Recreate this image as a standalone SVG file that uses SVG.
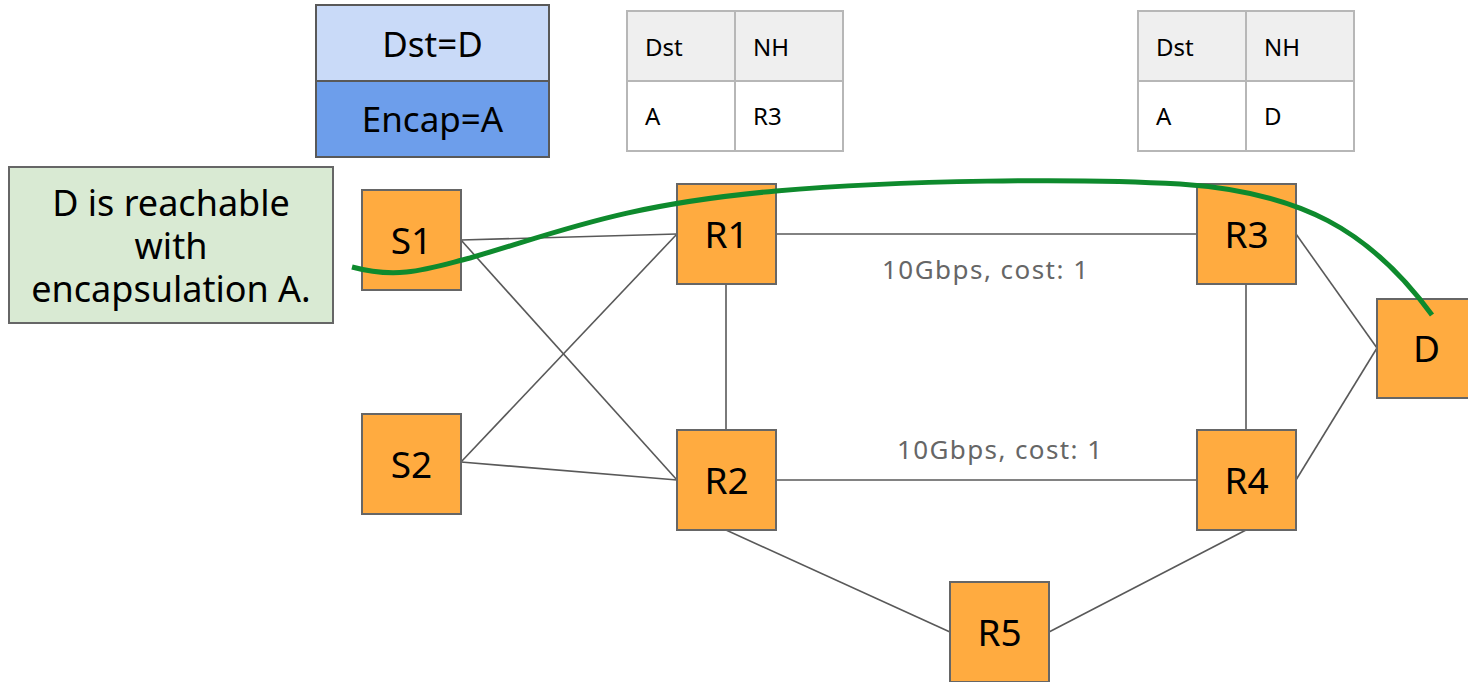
<svg xmlns="http://www.w3.org/2000/svg" width="1468" height="682" viewBox="0 0 1468 682">
  <style>
    .node rect { fill: #ffab40; stroke: #666666; stroke-width: 2; }
    .node text { font-family: "Noto Sans", "Open Sans", sans-serif; font-size: 37px; fill: #000; text-anchor: middle; }
    .link { stroke: #595959; stroke-width: 1.6; fill: none; }
    .lbl { font-family: "Noto Sans", "Open Sans", sans-serif; font-size: 26px; fill: #666666; }
    .tbl rect { stroke: #b7b7b7; stroke-width: 2; }
    .tbl line { stroke: #b7b7b7; stroke-width: 2; }
    .tbl text { font-family: "Noto Sans", "Open Sans", sans-serif; font-size: 24px; fill: #000; }
    .big { font-family: "Noto Sans", "Open Sans", sans-serif; font-size: 35px; fill: #000; text-anchor: middle; }
    .note { font-size: 36px; }
  </style>
  <rect width="1468" height="682" fill="#ffffff"/>

  <!-- packet header -->
  <g id="packet">
    <rect x="316" y="5" width="233" height="76" fill="#c9daf8" stroke="#595959" stroke-width="2"/>
    <rect x="316" y="81" width="233" height="76" fill="#6d9eeb" stroke="#595959" stroke-width="2"/>
    <text class="big" x="432.5" y="57">Dst=D</text>
    <text class="big" x="432.5" y="132">Encap=A</text>
  </g>

  <!-- routing tables -->
  <g id="table-r1" class="tbl">
    <rect x="627" y="11" width="216" height="70" fill="#efefef"/>
    <rect x="627" y="81" width="216" height="70" fill="#ffffff"/>
    <line x1="735" y1="11" x2="735" y2="151"/>
    <text x="645" y="56">Dst</text>
    <text x="753" y="56">NH</text>
    <text x="645" y="125">A</text>
    <text x="753" y="125">R3</text>
  </g>
  <g id="table-r3" class="tbl">
    <rect x="1138" y="11" width="216" height="70" fill="#efefef"/>
    <rect x="1138" y="81" width="216" height="70" fill="#ffffff"/>
    <line x1="1246" y1="11" x2="1246" y2="151"/>
    <text x="1156" y="56">Dst</text>
    <text x="1264" y="56">NH</text>
    <text x="1156" y="125">A</text>
    <text x="1264" y="125">D</text>
  </g>

  <!-- note -->
  <g id="note">
    <rect x="9" y="167" width="324" height="156" fill="#d9ead3" stroke="#666666" stroke-width="2"/>
    <text class="big note" x="171" y="216">D is reachable</text>
    <text class="big note" x="171" y="259">with</text>
    <text class="big note" x="171" y="302">encapsulation A.</text>
  </g>

  <!-- links -->
  <g id="links">
    <line class="link" x1="461" y1="240" x2="677" y2="234"/>
    <line class="link" x1="461" y1="240" x2="677" y2="480"/>
    <line class="link" x1="461" y1="462" x2="677" y2="234"/>
    <line class="link" x1="461" y1="462" x2="677" y2="480"/>
    <line class="link" x1="776" y1="234" x2="1197" y2="234"/>
    <line class="link" x1="726" y1="284" x2="726" y2="430"/>
    <line class="link" x1="1246" y1="284" x2="1246" y2="430"/>
    <line class="link" x1="776" y1="480" x2="1197" y2="480"/>
    <line class="link" x1="1296" y1="234" x2="1377" y2="348"/>
    <line class="link" x1="1296" y1="480" x2="1377" y2="348"/>
    <line class="link" x1="726" y1="530" x2="950" y2="632"/>
    <line class="link" x1="1246" y1="530" x2="1049" y2="632"/>
    <text class="lbl" x="882" y="279" textLength="206" lengthAdjust="spacing">10Gbps, cost: 1</text>
    <text class="lbl" x="897" y="459" textLength="205" lengthAdjust="spacing">10Gbps, cost: 1</text>
  </g>

  <!-- nodes -->
  <g id="S1" class="node"><rect x="362" y="190" width="99" height="100"/><text x="411.5" y="254">S1</text></g>
  <g id="S2" class="node"><rect x="362" y="414" width="99" height="100"/><text x="411.5" y="478">S2</text></g>
  <g id="R1" class="node"><rect x="677" y="184" width="99" height="100"/><text x="726.5" y="248">R1</text></g>
  <g id="R2" class="node"><rect x="677" y="430" width="99" height="100"/><text x="726.5" y="494">R2</text></g>
  <g id="R3" class="node"><rect x="1197" y="184" width="99" height="100"/><text x="1246.5" y="248">R3</text></g>
  <g id="R4" class="node"><rect x="1197" y="430" width="99" height="100"/><text x="1246.5" y="494">R4</text></g>
  <g id="R5" class="node"><rect x="950" y="582" width="99" height="100"/><text x="999.5" y="646">R5</text></g>
  <g id="D" class="node"><rect x="1377" y="299" width="99" height="99"/><text x="1426.5" y="362">D</text></g>

  <!-- forwarding path -->
  <g id="path">
    <path d="M352,267 C400,280 430,268 470,258 C560,232 620,205 776,191 C900,180 1080,178 1180,184 C1300,192 1370,230 1432,315" fill="none" stroke="#0e8a2d" stroke-width="5"/>
  </g>
</svg>
